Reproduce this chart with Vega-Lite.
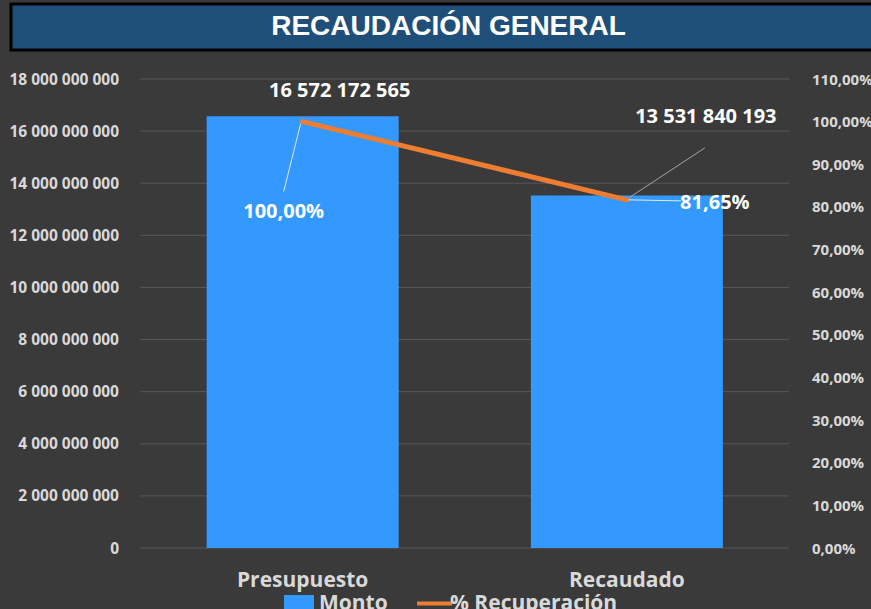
{
  "$schema": "https://vega.github.io/schema/vega-lite/v6.json",
  "background": "#3A3A3A",
  "padding": {"left": 8, "top": 2, "right": 0, "bottom": 0},
  "spacing": 20,
  "datasets": {
    "titulo": [{"texto": "RECAUDACIÓN GENERAL"}],
    "recaudacion": [
      {"categoria": "Presupuesto", "orden": 0, "monto": 16572172565, "pct": 1.0},
      {"categoria": "Recaudado", "orden": 1, "monto": 13531840193, "pct": 0.8165}
    ],
    "rejilla": [
      {"valor": 0}, {"valor": 2000000000}, {"valor": 4000000000}, {"valor": 6000000000}, {"valor": 8000000000},
      {"valor": 10000000000}, {"valor": 12000000000}, {"valor": 14000000000}, {"valor": 16000000000}, {"valor": 18000000000}
    ]
  },
  "vconcat": [
    {
      "width": 863,
      "height": 46,
      "data": {"name": "titulo"},
      "view": {"fill": "#1F4E79", "stroke": "#000000", "strokeWidth": 3},
      "mark": {"type": "text", "font": "Liberation Sans", "fontWeight": "bold", "fontSize": 28, "color": "#FFFFFF", "baseline": "middle", "align": "center", "dx": 6},
      "encoding": {"text": {"field": "texto", "type": "nominal"}}
    },
    {
      "width": 863,
      "height": 469,
      "view": {"stroke": null},
      "layer": [
        {
          "layer": [
            {
              "data": {"name": "rejilla"},
              "mark": {"type": "rule", "color": "#585858", "strokeWidth": 1},
              "encoding": {
                "x": {"datum": -0.5, "type": "quantitative", "scale": {"domain": [-0.8842, 1.7469], "nice": false, "zero": false}, "axis": null},
                "x2": {"datum": 1.5},
                "y": {
                  "field": "valor", "type": "quantitative",
                  "scale": {"domain": [0, 18000000000], "nice": false},
                  "axis": {"title": null, "orient": "left", "offset": -125.5, "values": [0, 2000000000, 4000000000, 6000000000, 8000000000, 10000000000, 12000000000, 14000000000, 16000000000, 18000000000], "format": ",.0f", "labelFont": "Open Sans", "labelFontSize": 15.5, "labelFontWeight": "bold", "labelColor": "#D9D9D9", "labelPadding": 18, "domain": false, "ticks": false, "tickSize": 0, "grid": false}
                }
              }
            },
            {
              "data": {"name": "recaudacion"},
              "encoding": {
                "x": {"field": "orden", "type": "quantitative"},
                "y": {"field": "monto", "type": "quantitative"}
              },
              "layer": [
                {
                  "mark": {"type": "bar", "width": 192},
                  "encoding": {
                    "fill": {
                      "datum": "Monto", "type": "nominal",
                      "scale": {"range": ["#3399FF"]},
                      "legend": {
                        "title": null, "orient": "none", "legendX": 273, "legendY": 591, "direction": "horizontal",
                        "labelFont": "Open Sans", "labelFontSize": 21, "labelFontWeight": "bold", "labelColor": "#D9D9D9", "labelLimit": 400, "labelBaseline": "alphabetic",
                        "symbolType": "square", "symbolSize": 900, "labelOffset": 5, "symbolStrokeWidth": 0
                      }
                    }
                  }
                },
                {
                  "mark": {"type": "text", "font": "Open Sans", "fontWeight": "bold", "fontSize": 21, "color": "#D9D9D9", "baseline": "top", "align": "center", "dy": 22},
                  "encoding": {"y": {"datum": 0}, "text": {"field": "categoria", "type": "nominal"}}
                },
                {
                  "transform": [{"filter": "datum.categoria === 'Presupuesto'"}],
                  "mark": {"type": "text", "font": "Open Sans", "fontWeight": "bold", "fontSize": 20, "color": "#FFFFFF", "baseline": "middle", "align": "center", "dx": 37, "dy": -25},
                  "encoding": {"text": {"field": "monto", "type": "quantitative", "format": ",.0f"}}
                },
                {
                  "transform": [{"filter": "datum.categoria === 'Recaudado'"}],
                  "mark": {"type": "text", "font": "Open Sans", "fontWeight": "bold", "fontSize": 20, "color": "#FFFFFF", "baseline": "middle", "align": "center", "dx": 79, "dy": -78},
                  "encoding": {"text": {"field": "monto", "type": "quantitative", "format": ",.0f"}}
                }
              ]
            }
          ]
        },
        {
          "data": {"name": "recaudacion"},
          "encoding": {
            "x": {"field": "orden", "type": "quantitative"},
            "y": {
              "field": "pct", "type": "quantitative",
              "scale": {"domain": [0, 1.1], "nice": false},
              "axis": {"title": null, "orient": "right", "offset": -80.5, "values": [0, 0.1, 0.2, 0.3, 0.4, 0.5, 0.6, 0.7, 0.8, 0.9, 1.0, 1.1], "format": ".2%", "labelFont": "Open Sans", "labelFontSize": 15, "labelFontWeight": "bold", "labelColor": "#D9D9D9", "labelPadding": 18, "domain": false, "ticks": false, "tickSize": 0, "grid": false}
            }
          },
          "layer": [
            {
              "mark": {"type": "line", "strokeWidth": 5, "strokeCap": "round"},
              "encoding": {
                "stroke": {
                  "datum": "% Recuperación", "type": "nominal",
                  "scale": {"range": ["#ED7D31"]},
                  "legend": {
                    "title": null, "orient": "none", "legendX": 404, "legendY": 580, "direction": "horizontal",
                    "labelFont": "Open Sans", "labelFontSize": 21, "labelFontWeight": "bold", "labelColor": "#D9D9D9", "labelLimit": 400, "labelBaseline": "middle",
                    "symbolType": "stroke", "symbolSize": 1225, "symbolStrokeWidth": 4, "symbolStrokeColor": "#ED7D31", "labelOffset": -4,
                    "encode": {"symbols": {"update": {"stroke": {"value": "#ED7D31"}, "strokeWidth": {"value": 4}, "opacity": {"value": 1}}}}
                  }
                }
              }
            },
            {
              "transform": [{"filter": "datum.categoria === 'Presupuesto'"}],
              "mark": {"type": "rule", "color": "#DDEBF7", "strokeWidth": 1, "xOffset": -2, "yOffset": 2, "x2Offset": -19, "y2Offset": 70},
              "encoding": {"x2": {"field": "orden"}, "y2": {"field": "pct"}}
            },
            {
              "transform": [{"filter": "datum.categoria === 'Recaudado'"}],
              "mark": {"type": "rule", "color": "#A6A6A6", "strokeWidth": 1, "xOffset": 2, "yOffset": -2, "x2Offset": 78, "y2Offset": -52},
              "encoding": {"x2": {"field": "orden"}, "y2": {"field": "pct"}}
            },
            {
              "transform": [{"filter": "datum.categoria === 'Recaudado'"}],
              "mark": {"type": "rule", "color": "#DDEBF7", "strokeWidth": 1, "xOffset": 2, "yOffset": 0, "x2Offset": 54, "y2Offset": 1},
              "encoding": {"x2": {"field": "orden"}, "y2": {"field": "pct"}}
            },
            {
              "transform": [{"filter": "datum.categoria === 'Presupuesto'"}],
              "mark": {"type": "text", "font": "Open Sans", "fontWeight": "bold", "fontSize": 20, "color": "#FFFFFF", "baseline": "middle", "align": "center", "dx": -19, "dy": 90},
              "encoding": {"text": {"field": "pct", "type": "quantitative", "format": ".2%"}}
            },
            {
              "transform": [{"filter": "datum.categoria === 'Recaudado'"}],
              "mark": {"type": "text", "font": "Open Sans", "fontWeight": "bold", "fontSize": 20, "color": "#FFFFFF", "baseline": "middle", "align": "center", "dx": 88, "dy": 3},
              "encoding": {"text": {"field": "pct", "type": "quantitative", "format": ".2%"}}
            }
          ]
        }
      ],
      "resolve": {"scale": {"y": "independent"}}
    }
  ],
  "config": {
    "locale": {"number": {"decimal": ",", "thousands": " ", "grouping": [3], "currency": ["", ""]}},
    "view": {"stroke": null}
  }
}
